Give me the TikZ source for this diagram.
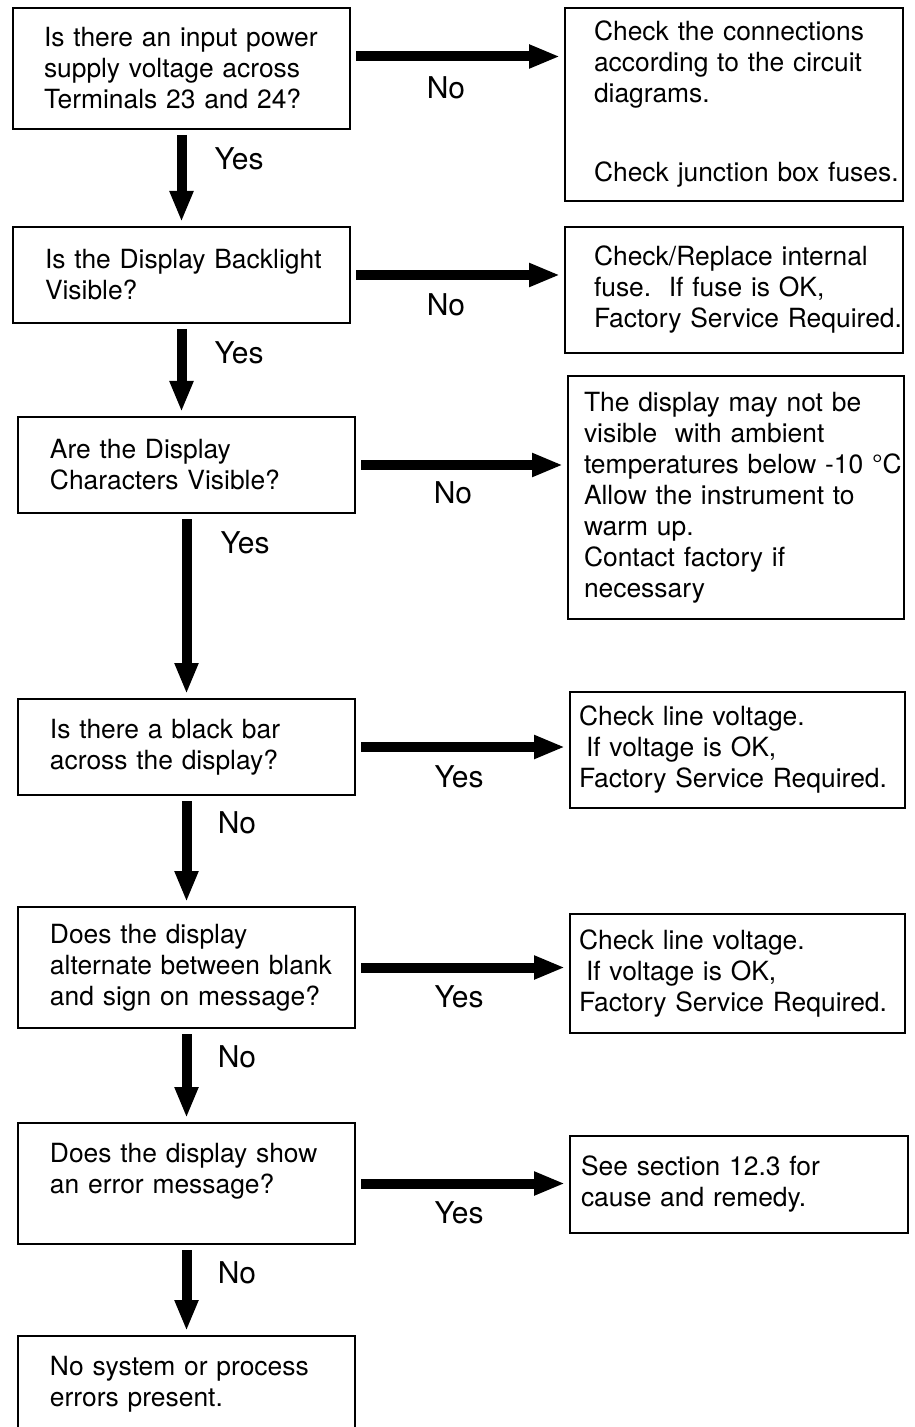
\documentclass[tikz,border=0pt]{standalone}
\usepackage{fontspec}
\setmainfont{TeX Gyre Heros}
\usetikzlibrary{arrows.meta}

\tikzset{
  box/.style={draw, line width=1pt, anchor=north west, inner sep=0pt, align=left,
    font=\fontsize{13.2}{15.5}\selectfont},
  pad/.style={execute at begin node={\leftskip=#1pt}},
  flow/.style={line width=5pt, -{Triangle[width=11pt,length=15.5pt]},
    shorten <=2.5pt, shorten >=2pt},
  lbl/.style={inner sep=0pt, font=\fontsize{15}{18}\selectfont}
}

\begin{document}
\begin{tikzpicture}[x=1pt, y=-1pt]

    \useasboundingbox (0,0) rectangle (457,713.5);

    % Questions
    \node[box, pad=15.5, text width=168.5, minimum height=60.5] (q1) at (6,3.5)
      {Is there an input power\\supply voltage across\\Terminals 23 and 24?};
    \node[box, pad=16, text width=168.5, minimum height=48] (q2) at (6,113)
      {Is the Display Backlight\\Visible?};
    \node[box, pad=16, text width=168.5, minimum height=48] (q3) at (8.5,208)
      {Are the Display\\Characters Visible?};
    \node[box, pad=16, text width=168.5, minimum height=48] (q4) at (8.5,349)
      {Is there a black bar\\across the display?};
    \node[box, pad=16, text width=168.5, minimum height=60.5] (q5) at (8.5,453)
      {Does the display\\alternate between blank\\and sign on message?};
    \node[box, pad=16, text width=168.5, minimum height=60.5] (q6) at (8.5,561)
      {Does the display show\\an error message?\\ \mbox{}};
    \node[box, pad=16, text width=168.5, minimum height=48.5] (q7) at (8.5,667.5)
      {No system or process\\errors present.};

    % Remedies
    \node[box, pad=14.5, text width=169, minimum height=96.5] (r1) at (282,3.5)
      {Check the connections\\according to the circuit\\diagrams.\\[24pt]Check junction box fuses.};
    \node[box, pad=14.5, text width=169, minimum height=63] (r2) at (282,113)
      {Check/Replace internal\\fuse.\ \ If fuse is OK,\\Factory Service Required.};
    \node[box, pad=8, text width=168, minimum height=121.5] (r3) at (283.5,187.5)
      {The display may not be\\visible\ \ with ambient\\temperatures below -10 °C\\Allow the instrument to\\warm up.\\Contact factory if\\necessary};
    \node[box, pad=4.5, text width=167.5, minimum height=58] (r4) at (284.5,345.5)
      {Check line voltage.\\\hspace*{3.5pt}If voltage is OK,\\Factory Service Required.};
    \node[box, pad=4.5, text width=167.5, minimum height=59.5] (r5) at (284.5,456.5)
      {Check line voltage.\\\hspace*{3.5pt}If voltage is OK,\\Factory Service Required.};
    \node[box, pad=5.5, text width=169, minimum height=48.5] (r6) at (284.5,567.5)
      {See section 12.3 for\\cause and remedy.};

    % Down the chain
    \draw[flow] (q1.south) -- (q2.north);
    \draw[flow] (q2.south) -- (q2.south |- q3.north);
    \draw[flow] (q3.south) -- (q4.north);
    \draw[flow] (q4.south) -- (q5.north);
    \draw[flow] (q5.south) -- (q6.north);
    \draw[flow] (q6.south) -- (q7.north);

    % Across to the remedies
    \draw[flow] ([yshift=6pt]q1.east) -- ([yshift=6pt]q1.east -| r1.west);
    \draw[flow] (q2.east) -- (q2.east -| r2.west);
    \draw[flow] (q3.east) -- (q3.east -| r3.west);
    \draw[flow] (q4.east) -- (q4.east -| r4.west);
    \draw[flow] (q5.east) -- (q5.east -| r5.west);
    \draw[flow] (q6.east) -- (q6.east -| r6.west);

    % Labels
    \node[lbl] (y1) at (119.5,79.5) {Yes};
    \node[lbl] (y2) at (119.5,176.5) {Yes};
    \node[lbl] (y3) at (122.5,271.5) {Yes};
    \node[lbl] (n4) at (118.5,411.5) {No};
    \node[lbl] (n5) at (118.5,528.5) {No};
    \node[lbl] (n6) at (118.5,636.5) {No};

    \node[lbl] (n1) at (223,44) {No};
    \node[lbl] (n2) at (223,152.5) {No};
    \node[lbl] (n3) at (226.5,246.5) {No};
    \node[lbl] (y4) at (229.5,388.5) {Yes};
    \node[lbl] (y5) at (229.5,498.5) {Yes};
    \node[lbl] (y6) at (229.5,606.5) {Yes};

\end{tikzpicture}
\end{document}
